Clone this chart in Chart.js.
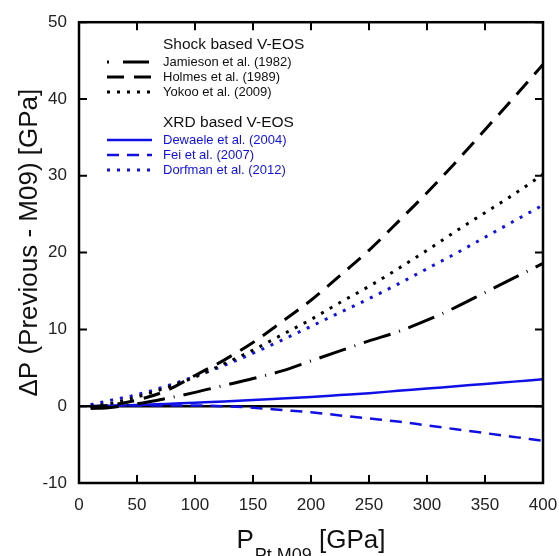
<!DOCTYPE html>
<html>
<head>
<meta charset="utf-8">
<script src="https://cdn.jsdelivr.net/npm/chart.js@4/dist/chart.umd.min.js"></script>
<style>
    html, body { margin: 0; padding: 0; background: #fff; }
    #wrap { width: 559px; height: 556px; }
</style>
</head>
<body>
<div id="wrap"><canvas id="eos-chart"></canvas></div>
<script>
// pressure on the Pt M09 scale (GPa)
const pressure = [10, 25, 50, 75, 100, 125, 150, 175, 200, 225, 250, 275, 300, 325, 350, 375, 400];

// delta P (previous - M09), GPa
const jamieson = [-0.3, -0.2, 0.3, 1.0, 1.8, 2.7, 3.6, 4.6, 5.9, 7.2, 8.5, 9.7, 11.2, 12.9, 14.8, 16.7, 18.6];
const holmes = [-0.1, 0.1, 0.8, 2.0, 4.0, 6.0, 8.3, 11.0, 13.8, 17.0, 20.3, 24.0, 27.8, 31.8, 36.0, 40.2, 44.5];
const yokoo = [0.0, 0.3, 1.2, 2.4, 3.8, 5.5, 7.3, 9.3, 11.3, 13.5, 15.6, 17.9, 20.3, 22.8, 25.2, 27.6, 30.2];
const dewaele = [0.0, 0.05, 0.15, 0.3, 0.45, 0.6, 0.8, 1.0, 1.2, 1.45, 1.7, 2.0, 2.3, 2.6, 2.9, 3.2, 3.5];
const fei = [0.0, 0.05, 0.1, 0.1, 0.1, 0.0, -0.2, -0.5, -0.8, -1.2, -1.6, -2.0, -2.5, -3.0, -3.5, -4.0, -4.5];
const dorfman = [0.2, 0.7, 1.5, 2.6, 3.9, 5.3, 6.9, 8.6, 10.4, 12.2, 14.0, 15.9, 17.9, 19.9, 22.0, 24.1, 26.2];

const seriesLabels = [
    "Jamieson et al. (1982)",
    "Holmes et al. (1989)",
    "Yokoo et al. (2009)",
    "Dewaele et al. (2004)",
    "Fei et al. (2007)",
    "Dorfman et al. (2012)",
];
const groupTitles = ["Shock based V-EOS", "XRD based V-EOS"];

const BLACK = "#000000";
const BLUE = "#1010e6";
const FONT = "'Liberation Sans', Arial, sans-serif";

function points(ys) {
    return pressure.map((x, i) => ({ x: x, y: ys[i] }));
}

function series(label, ys, color, dash, width) {
    return {
        label: label,
        data: points(ys),
        borderColor: color,
        backgroundColor: color,
        borderWidth: width,
        borderDash: dash,
        pointRadius: 0,
        showLine: true,
        cubicInterpolationMode: "monotone",
    };
}

// frame with inward tick marks on all four sides
const framePlugin = {
    id: "frame",
    afterDatasetsDraw(chart) {
        const { ctx, chartArea: a, scales } = chart;
        const len = 8;
        ctx.save();
        ctx.strokeStyle = "#000";
        ctx.lineWidth = 2.5;
        ctx.strokeRect(a.left, a.top, a.right - a.left, a.bottom - a.top);
        ctx.lineWidth = 2;
        ctx.beginPath();
        scales.x.ticks.forEach((t) => {
            const px = scales.x.getPixelForValue(t.value);
            ctx.moveTo(px, a.bottom);
            ctx.lineTo(px, a.bottom - len);
            ctx.moveTo(px, a.top);
            ctx.lineTo(px, a.top + len);
        });
        scales.y.ticks.forEach((t) => {
            const py = scales.y.getPixelForValue(t.value);
            ctx.moveTo(a.left, py);
            ctx.lineTo(a.left + len, py);
            ctx.moveTo(a.right, py);
            ctx.lineTo(a.right - len, py);
        });
        ctx.stroke();
        ctx.restore();
    },
};

// grouped legend in the upper left
const legendPlugin = {
    id: "groupLegend",
    afterDraw(chart) {
        const ctx = chart.ctx;
        const sets = chart.data.datasets;
        const groups = [
            { title: groupTitles[0], y: 45, items: [0, 1, 2] },
            { title: groupTitles[1], y: 123, items: [3, 4, 5] },
        ];
        ctx.save();
        ctx.textBaseline = "middle";
        groups.forEach((g) => {
            ctx.fillStyle = "#111";
            ctx.font = "15.5px " + FONT;
            ctx.fillText(g.title, 163, g.y);
            g.items.forEach((idx, k) => {
                const ds = sets[idx];
                const y = g.y + 17 + k * 15;
                ctx.strokeStyle = ds.borderColor;
                ctx.lineWidth = ds.borderWidth;
                ctx.setLineDash(ds.legendDash || ds.borderDash || []);
                ctx.beginPath();
                ctx.moveTo(107, y);
                ctx.lineTo(152, y);
                ctx.stroke();
                ctx.setLineDash([]);
                ctx.fillStyle = ds.borderColor === BLUE ? BLUE : "#111";
                ctx.font = "13px " + FONT;
                ctx.fillText(ds.label, 163, y);
            });
        });
        ctx.restore();
    },
};

// axis titles (x title needs a subscript)
const titlePlugin = {
    id: "axisTitles",
    afterDraw(chart) {
        const ctx = chart.ctx;
        const a = chart.chartArea;
        ctx.save();
        ctx.fillStyle = "#111";
        ctx.textBaseline = "alphabetic";

        // y title
        ctx.font = "26px " + FONT;
        ctx.translate(37, (a.top + a.bottom) / 2 - 10);
        ctx.rotate(-Math.PI / 2);
        ctx.textAlign = "center";
        ctx.fillText("\u0394P (Previous - M09) [GPa]", 0, 0);
        ctx.setTransform(1, 0, 0, 1, 0, 0);

        // x title: P_{Pt M09} [GPa]
        ctx.textAlign = "left";
        const big = "26px " + FONT;
        const small = "18px " + FONT;
        ctx.font = big;
        const wP = ctx.measureText("P").width;
        const wRest = ctx.measureText(" [GPa]").width;
        ctx.font = small;
        const wSub = ctx.measureText("Pt M09").width;
        const total = wP + 1 + wSub + wRest;
        let x = (a.left + a.right) / 2 - total / 2;
        const base = 548;
        ctx.font = big;
        ctx.fillText("P", x, base);
        x += wP + 1;
        ctx.font = small;
        ctx.fillText("Pt M09", x, base + 13);
        x += wSub;
        ctx.font = big;
        ctx.fillText(" [GPa]", x, base);
        ctx.restore();
    },
};

const jamiesonSet = series(seriesLabels[0], jamieson, BLACK, [28, 9, 1, 9], 3);
jamiesonSet.legendDash = [2, 14, 26, 4];

const chart = new Chart(document.getElementById("eos-chart"), {
    type: "scatter",
    data: {
        datasets: [
            jamiesonSet,
            series(seriesLabels[1], holmes, BLACK, [17, 10], 3),
            series(seriesLabels[2], yokoo, BLACK, [3, 7], 3),
            series(seriesLabels[3], dewaele, BLUE, [], 2.5),
            series(seriesLabels[4], fei, BLUE, [12, 8], 2.5),
            series(seriesLabels[5], dorfman, BLUE, [3, 7], 3),
        ],
    },
    options: {
        responsive: true,
        maintainAspectRatio: false,
        animation: false,
        layout: {
            padding: { top: 20, right: 16, left: 0, bottom: 0 },
        },
        scales: {
            x: {
                type: "linear",
                min: 0,
                max: 400,
                afterFit: (s) => {
                    s.height = 73;
                    s.paddingLeft = 0;
                    s.paddingRight = 0;
                },
                border: { display: false },
                grid: { display: false, drawTicks: false },
                ticks: {
                    stepSize: 50,
                    padding: 12,
                    color: "#222",
                    font: { family: FONT, size: 17 },
                },
            },
            y: {
                min: -10,
                max: 50,
                afterFit: (s) => { s.width = 79; },
                border: { display: false },
                grid: {
                    drawTicks: false,
                    lineWidth: 2.5,
                    color: (c) => (c.tick && c.tick.value === 0 ? "#000" : "rgba(0,0,0,0)"),
                },
                ticks: {
                    stepSize: 10,
                    padding: 12,
                    color: "#222",
                    font: { family: FONT, size: 17 },
                },
            },
        },
        plugins: {
            legend: { display: false },
            tooltip: { enabled: false },
        },
    },
    plugins: [framePlugin, legendPlugin, titlePlugin],
});
</script>
</body>
</html>
